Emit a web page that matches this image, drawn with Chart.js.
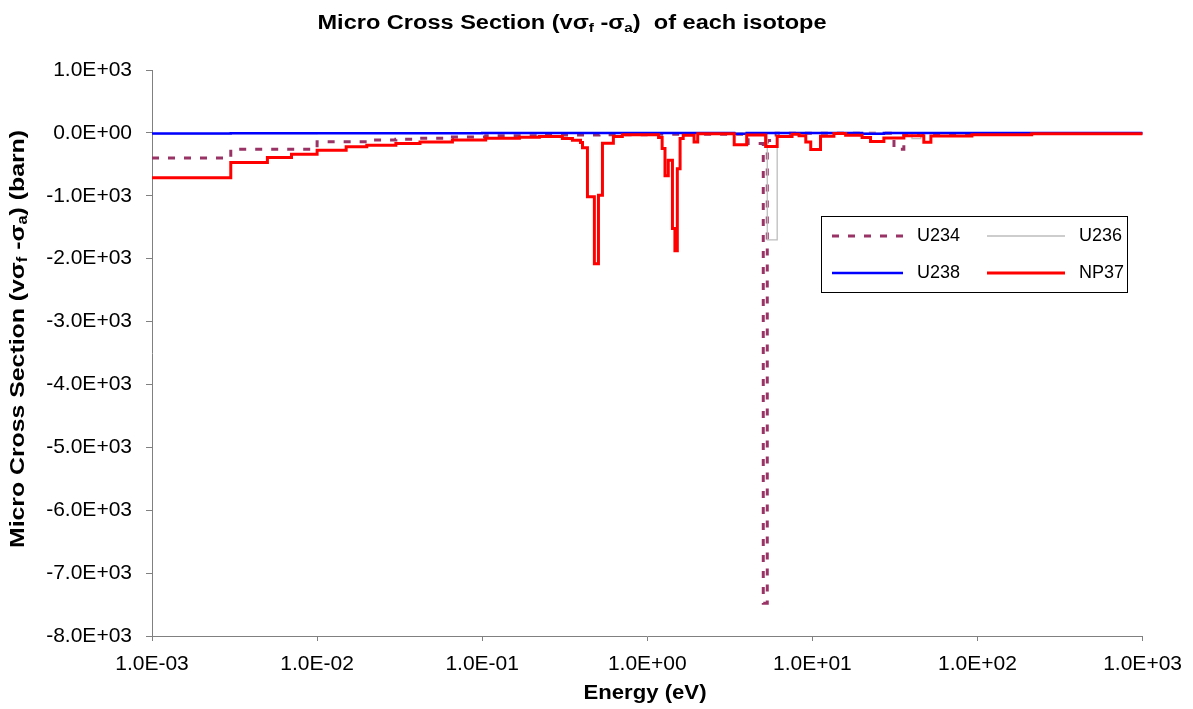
<!DOCTYPE html>
<html>
<head>
<meta charset="utf-8">
<script src="https://cdn.jsdelivr.net/npm/chart.js@4/dist/chart.umd.min.js"></script>
<style>
  body { margin: 0; background: #fff; }
  #wrap { width: 1193px; height: 709px; position: relative; }
</style>
</head>
<body>
<div id="wrap"><canvas id="grafico"></canvas></div>
<script>
// group boundaries (eV) and group values (barn), one value per group
const u234Energy = [1e-3, 3.0e-3, 1.0e-2, 2.0e-2, 3.0e-2, 4.2e-2, 6.6e-2, 0.105, 0.222, 0.51, 1.03, 2.07, 4.08, 5.04, 5.33, 6.03, 31.2, 35.8, 1000];
const u234Value = [-400, -260, -140, -115, -100, -85, -65, -45, -35, -28, -22, -20, -170, -7480, -120, -5, -260, -10];

const u236Energy = [1e-3, 3.0e-3, 1.0e-2, 0.1, 1.0, 5.33, 6.12, 40.1, 45.4, 1000];
const u236Value = [-15, -10, -6, -4, -3, -1700, -3, -90, -3];

const u238Energy = [1e-3, 3.0e-3, 1.0e-2, 0.1, 3.36, 4.0, 20.0, 27.1, 1000];
const u238Value = [-8, -6, -4, -2, -15, -2, -12, -2];

const np37Energy = [1e-3, 3.0e-3, 5.0e-3, 7.0e-3, 1.0e-2, 1.5e-2, 2.0e-2, 3.0e-2, 4.2e-2, 6.6e-2,
    0.105, 0.168, 0.222, 0.306, 0.352, 0.394, 0.405, 0.434, 0.478, 0.506,
    0.535, 0.623, 0.706, 1.17, 1.23, 1.28, 1.34, 1.42, 1.47, 1.52,
    1.58, 1.65, 1.92, 2.02, 3.36, 4.0, 5.21, 6.12, 7.53, 8.3,
    9.12, 9.77, 11.2, 13.5, 15.9, 20.0, 22.5, 27.1, 35.8, 47.3,
    52.2, 92.5, 213, 1000];
const np37Value = [-715, -470, -390, -340, -275, -220, -195, -170, -145, -112,
    -85, -68, -58, -90, -116, -153, -235, -1016, -2080, -990,
    -163, -58, -30, -74, -250, -683, -434, -1520, -1873, -570,
    -90, -37, -145, -12, -190, -35, -215, -58, -20, -45,
    -143, -265, -55, -10, -37, -74, -135, -80, -45, -150,
    -50, -28, -15];

const xTicks = [1e-3, 1e-2, 1e-1, 1e0, 1e1, 1e2, 1e3];
const yMin = -8000, yMax = 1000, yStep = 1000;

const FONTE = '"Liberation Sans", Arial, sans-serif';

function formatarE(v) {
    if (v === 0) return '0.0E+00';
    const e = Math.floor(Math.log10(Math.abs(v)) + 1e-9);
    const m = v / Math.pow(10, e);
    return m.toFixed(1) + 'E' + (e < 0 ? '-' : '+') + String(Math.abs(e)).padStart(2, '0');
}

function degraus(energias, valores) {
    const pts = valores.map((v, i) => ({ x: energias[i], y: v }));
    pts.push({ x: energias[energias.length - 1], y: valores[valores.length - 1] });
    return pts;
}

// texto com subscritos: partes [{t, sub}]
function larguraRica(ctx, partes, tam) {
    let w = 0;
    partes.forEach(p => {
        ctx.font = 'bold ' + (p.sub ? Math.round(tam * 0.65) : tam) + 'px ' + FONTE;
        w += ctx.measureText(p.t).width;
    });
    return w;
}
// desenha centrado em (cx, cy), esticado na horizontal ate a largura alvo
function desenharRico(ctx, partes, tam, cx, cy, alvo) {
    const w = larguraRica(ctx, partes, tam);
    const sx = alvo / w;
    ctx.save();
    ctx.translate(cx - alvo / 2, cy);
    ctx.scale(sx, 1);
    let x = 0;
    partes.forEach(p => {
        const t = p.sub ? Math.round(tam * 0.65) : tam;
        ctx.font = 'bold ' + t + 'px ' + FONTE;
        ctx.fillText(p.t, x, p.sub ? tam * 0.25 : 0);
        x += ctx.measureText(p.t).width;
    });
    ctx.restore();
}

const tituloPartes = [{ t: 'Micro Cross Section (v\u03C3' }, { t: 'f', sub: true }, { t: ' -\u03C3' }, { t: 'a', sub: true }, { t: ')  of each isotope' }];
const eixoYPartes = [{ t: 'Micro Cross Section (v\u03C3' }, { t: 'f', sub: true }, { t: ' -\u03C3' }, { t: 'a', sub: true }, { t: ') (barn)' }];
const eixoXPartes = [{ t: 'Energy (eV)' }];

const series = [
    { nome: 'U234', cor: '#993366', larg: 3, tracejado: [7, 9], e: u234Energy, v: u234Value },
    { nome: 'U236', cor: '#BDBDBD', larg: 1.3, tracejado: [], e: u236Energy, v: u236Value },
    { nome: 'U238', cor: '#0000FF', larg: 2.5, tracejado: [], e: u238Energy, v: u238Value },
    { nome: 'NP37', cor: '#FF0000', larg: 3, tracejado: [], e: np37Energy, v: np37Value }
];

const textos = {
    id: 'textos',
    afterDraw(chart) {
        const ctx = chart.ctx;
        ctx.save();
        ctx.fillStyle = '#000';
        ctx.textBaseline = 'middle';
        ctx.textAlign = 'left';

        desenharRico(ctx, tituloPartes, 20, 572, 23, 509);
        desenharRico(ctx, eixoXPartes, 21, 645, 693, 123);

        ctx.save();
        ctx.translate(18, 339);
        ctx.rotate(-Math.PI / 2);
        desenharRico(ctx, eixoYPartes, 21, 0, 0, 418);
        ctx.restore();

        // legenda
        ctx.fillStyle = '#fff';
        ctx.fillRect(821.5, 216.5, 306, 76);
        ctx.strokeStyle = '#000';
        ctx.lineWidth = 1;
        ctx.strokeRect(821.5, 216.5, 306, 76);
        const pos = [[832, 236], [987, 236], [832, 273], [987, 273]];
        const compr = [71, 78, 71, 78];
        series.forEach((s, i) => {
            const [x, y] = pos[i];
            ctx.beginPath();
            ctx.strokeStyle = s.cor;
            ctx.lineWidth = s.larg;
            ctx.setLineDash(s.tracejado);
            ctx.moveTo(x, y);
            ctx.lineTo(x + compr[i], y);
            ctx.stroke();
            ctx.setLineDash([]);
            ctx.fillStyle = '#000';
            ctx.font = '18px ' + FONTE;
            ctx.textAlign = 'left';
            ctx.fillText(s.nome, x + compr[i] + 14, y);
        });
        ctx.restore();
    }
};

const ctx = document.getElementById('grafico').getContext('2d');
new Chart(ctx, {
    type: 'line',
    data: {
        datasets: series.map((s, i) => ({
            label: s.nome,
            data: degraus(s.e, s.v),
            borderColor: s.cor,
            borderWidth: s.larg,
            borderDash: s.tracejado,
            stepped: 'before',
            pointRadius: 0,
            fill: false,
            order: series.length - i
        }))
    },
    options: {
        responsive: true,
        maintainAspectRatio: false,
        animation: false,
        layout: { padding: { top: 70, right: 49, bottom: 0, left: 0 } },
        plugins: { legend: { display: false }, title: { display: false }, tooltip: { enabled: false } },
        scales: {
            x: {
                type: 'logarithmic',
                min: 1e-3,
                max: 1e3,
                afterBuildTicks: s => { s.ticks = xTicks.map(v => ({ value: v })); },
                afterFit: s => { s.height = 73; },
                ticks: {
                    callback: v => formatarE(v),
                    font: { family: FONTE, size: 21 },
                    color: '#000',
                    maxRotation: 0,
                    autoSkip: false,
                    padding: 11
                },
                grid: { drawOnChartArea: false, drawTicks: true, tickLength: 5, color: '#808080' },
                border: { color: '#808080', width: 1 }
            },
            y: {
                min: yMin,
                max: yMax,
                afterFit: s => { s.width = 152; },
                ticks: {
                    stepSize: yStep,
                    callback: v => formatarE(v),
                    font: { family: FONTE, size: 21 },
                    color: '#000',
                    padding: 14
                },
                grid: { drawOnChartArea: false, drawTicks: true, tickLength: 6, color: '#808080' },
                border: { color: '#808080', width: 1 }
            }
        }
    },
    plugins: [textos]
});
</script>
</body>
</html>
